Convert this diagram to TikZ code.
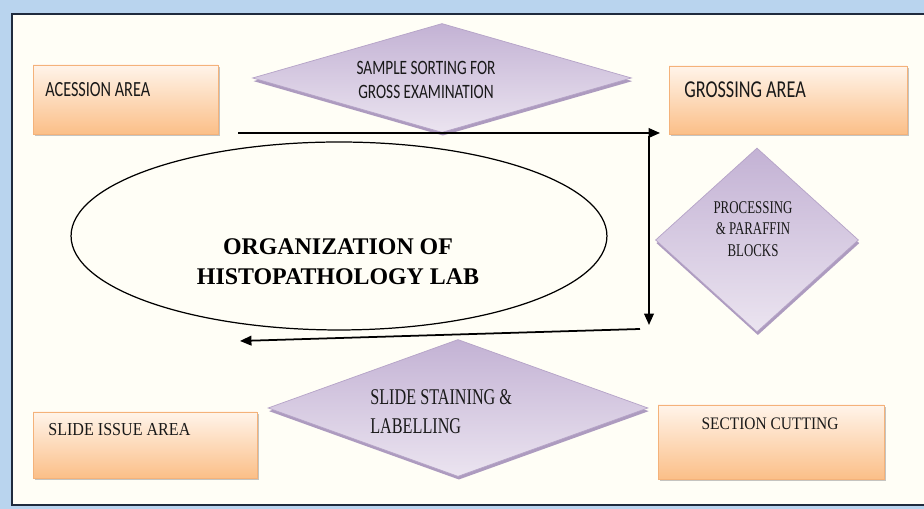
\documentclass[tikz,border=0pt]{standalone}
\usepackage{fontspec}
\setmainfont{Liberation Serif}
\newfontfamily\calibri[FakeStretch=0.75]{Carlito}
\newfontfamily\narrowserif[FakeStretch=0.88]{Liberation Serif}
\newfontfamily\condserif[FakeStretch=0.72]{Liberation Serif}
\usetikzlibrary{arrows.meta,positioning,shapes.geometric,shadows}
\definecolor{glowblue}{HTML}{B9D4EE}
\definecolor{paper}{HTML}{FFFEF6}
\definecolor{framenavy}{HTML}{1F2B3D}
\definecolor{peachtop}{HTML}{FFF4EA}
\definecolor{peachbot}{HTML}{FBBF88}
\definecolor{peachline}{HTML}{F4B27A}
\definecolor{lavdark}{HTML}{C3B2D4}
\definecolor{lavlight}{HTML}{EBE4F0}
\definecolor{lavline}{HTML}{B5A3C7}
\definecolor{lavshadow}{HTML}{A591BA}

\begin{document}
\begin{tikzpicture}[x=0.02cm,y=0.02cm,>={Triangle[length=6.5pt,width=5.5pt]}]
  \tikzset{area/.style={rectangle,inner sep=0pt,draw=peachline,top color=peachtop,bottom color=peachbot,drop shadow={shadow xshift=1pt,shadow yshift=-1.2pt,fill=black!45,opacity=.5}}}
  \tikzset{dia/.style={diamond,inner sep=0pt,draw=lavline,top color=lavdark,bottom color=lavlight,drop shadow={shadow xshift=.5pt,shadow yshift=-1.8pt,fill=lavshadow,opacity=.9}}}
  \tikzset{lbl/.style={inner sep=0pt,text=black!90}}
  \tikzset{flow/.style={->,line width=1pt}}
  \useasboundingbox (0,0) rectangle (924,509);
  % frame
  \fill[glowblue] (0,0) rectangle (924,509);
  \fill[paper] (12,4) rectangle (924,495);
  \draw[framenavy,line width=1.2pt] (924,4) -- (12,4) -- (12,495) -- (924,495);
  % areas
  \node[area,minimum width=3.70cm,minimum height=1.38cm] (acc) at (125.5,409.5) {};
  \node[area,minimum width=4.76cm,minimum height=1.36cm] (gross) at (788,409) {};
  \node[area,minimum width=4.48cm,minimum height=1.32cm] (issue) at (145,64) {};
  \node[area,minimum width=4.52cm,minimum height=1.48cm] (section) at (771,67) {};
  \node[lbl,anchor=west,font=\calibri\fontsize{12.3}{14}\selectfont] (accT) at (45,419) {ACESSION AREA};
  \node[lbl,anchor=west,font=\calibri\fontsize{13.8}{15}\selectfont] (grossT) at (684,419) {GROSSING AREA};
  \node[lbl,anchor=west,font=\narrowserif\fontsize{10.4}{12}\selectfont] (issueT) at (48,79) {SLIDE ISSUE AREA};
  \node[lbl,font=\narrowserif\fontsize{10}{12}\selectfont] (sectionT) at (770,85) {SECTION CUTTING};
  % steps
  \node[dia,minimum width=7.58cm,minimum height=2.18cm] (sort) at (442,431) {};
  \node[dia,minimum width=4.06cm,minimum height=3.68cm] (proc) at (757,269) {};
  \node[dia,minimum width=7.60cm,minimum height=2.74cm] (stain) at (458,101) {};
  \node[lbl,align=center,font=\calibri\fontsize{11.6}{14}\selectfont] (sortT) at (426,429) {SAMPLE SORTING FOR\\GROSS EXAMINATION};
  \node[lbl,align=center,font=\condserif\fontsize{10.2}{12.2}\selectfont] (procT) at (753,280) {PROCESSING\\\& PARAFFIN\\BLOCKS};
  \node[lbl,anchor=west,align=left,font=\condserif\fontsize{12.8}{16.4}\selectfont] (stainT) at (370,97) {SLIDE STAINING \&\\LABELLING};
  % centre
  \node[ellipse,draw,line width=.7pt,minimum width=10.72cm,minimum height=3.76cm] (org) at (339,273) {};
  \node[lbl,align=center,text=black,font=\bfseries\fontsize{13.6}{17}\selectfont] (orgT) at (338,247) {ORGANIZATION OF\\HISTOPATHOLOGY LAB};
  % flow
  \coordinate (c1) at (238,376);
  \coordinate (c2) at (660,376);
  \coordinate (c3) at (649,373);
  \coordinate (c4) at (649,184);
  \coordinate (c5) at (640,180);
  \coordinate (c6) at (240,168);
  \draw[flow] (c1) -- (c2);
  \draw[flow] (c3) -- (c4);
  \draw[flow] (c5) -- (c6);
\end{tikzpicture}
\end{document}
